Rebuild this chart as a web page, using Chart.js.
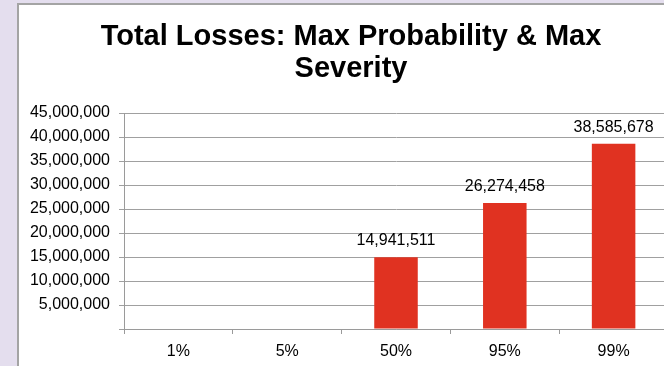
<!DOCTYPE html>
<html>
<head>
<meta charset="utf-8">
<script src="https://cdn.jsdelivr.net/npm/chart.js@4/dist/chart.umd.min.js"></script>
<style>
  html, body { margin: 0; padding: 0; width: 664px; height: 366px; overflow: hidden; background: #E4DEEE; }
  #frame { position: absolute; left: 17px; top: 3px; width: 720px; height: 420px; background: #ffffff; border: 2px solid #a4a4a4; }
  #chart { position: absolute; left: 0; top: 0; }
</style>
</head>
<body>
<div id="frame"></div>
<canvas id="chart" width="702" height="366"></canvas>
<script>
// Total losses per confidence level
const categories = ['1%', '5%', '50%', '95%', '99%'];
const lossValues = [null, null, 14941511, 26274458, 38585678];
const yTicks = [0, 5000000, 10000000, 15000000, 20000000, 25000000, 30000000, 35000000, 40000000, 45000000];
const titleLines = ['Total Losses: Max Probability & Max', 'Severity'];

const fmt = v => Number(v).toLocaleString('en-US');

// Writes each bar's value just above it
const valueLabels = {
  id: 'valueLabels',
  afterDatasetsDraw(chart) {
    const ctx = chart.ctx;
    const meta = chart.getDatasetMeta(0);
    ctx.save();
    ctx.font = '16px "Liberation Sans", Arial, sans-serif';
    ctx.fillStyle = '#000000';
    ctx.textAlign = 'center';
    ctx.textBaseline = 'alphabetic';
    meta.data.forEach((bar, i) => {
      const v = lossValues[i];
      if (v === null || v === undefined) return;
      ctx.fillText(fmt(v), bar.x, bar.y - 12);
    });
    ctx.restore();
  }
};

// Centres the title over the whole framed panel rather than the plot width
const titleShift = {
  id: 'titleShift',
  afterLayout(chart) {
    const t = chart.titleBlock;
    if (t) { t.left += 17; t.right += 17; }
  }
};

new Chart(document.getElementById('chart'), {
  type: 'bar',
  data: {
    labels: categories,
    datasets: [{
      data: lossValues,
      backgroundColor: '#E03221',
      borderWidth: 0,
      barPercentage: 0.8,
      categoryPercentage: 0.5
    }]
  },
  options: {
    responsive: false,
    animation: false,
    devicePixelRatio: 1,
    layout: { padding: { top: 0, left: 0, right: 34, bottom: 0 } },
    plugins: {
      legend: { display: false },
      tooltip: { enabled: false },
      title: {
        display: true,
        text: titleLines,
        color: '#000000',
        font: { family: '"Liberation Sans", Arial, sans-serif', size: 29, weight: 'bold', lineHeight: 32 / 29 },
        padding: { top: 21, bottom: 28 }
      }
    },
    scales: {
      x: {
        offset: true,
        grid: { drawOnChartArea: false, drawTicks: true, tickLength: 5, color: '#9a9a9a', offset: true },
        border: { display: true, color: '#9a9a9a', width: 1 },
        ticks: { color: '#000000', padding: 8, font: { family: '"Liberation Sans", Arial, sans-serif', size: 16 } },
        afterFit(scale) { scale.height = 37; }
      },
      y: {
        min: 0,
        max: 45000000,
        afterBuildTicks(scale) { scale.ticks = yTicks.map(v => ({ value: v })); },
        grid: { color: '#a0a0a0', tickLength: 5, drawTicks: true },
        border: { display: true, color: '#9a9a9a', width: 1 },
        ticks: {
          color: '#000000',
          padding: 9,
          font: { family: '"Liberation Sans", Arial, sans-serif', size: 16 },
          callback: v => (v === 0 ? '' : fmt(v))
        },
        afterFit(scale) { scale.width = 124; }
      }
    }
  },
  plugins: [valueLabels, titleShift]
});
</script>
</body>
</html>
